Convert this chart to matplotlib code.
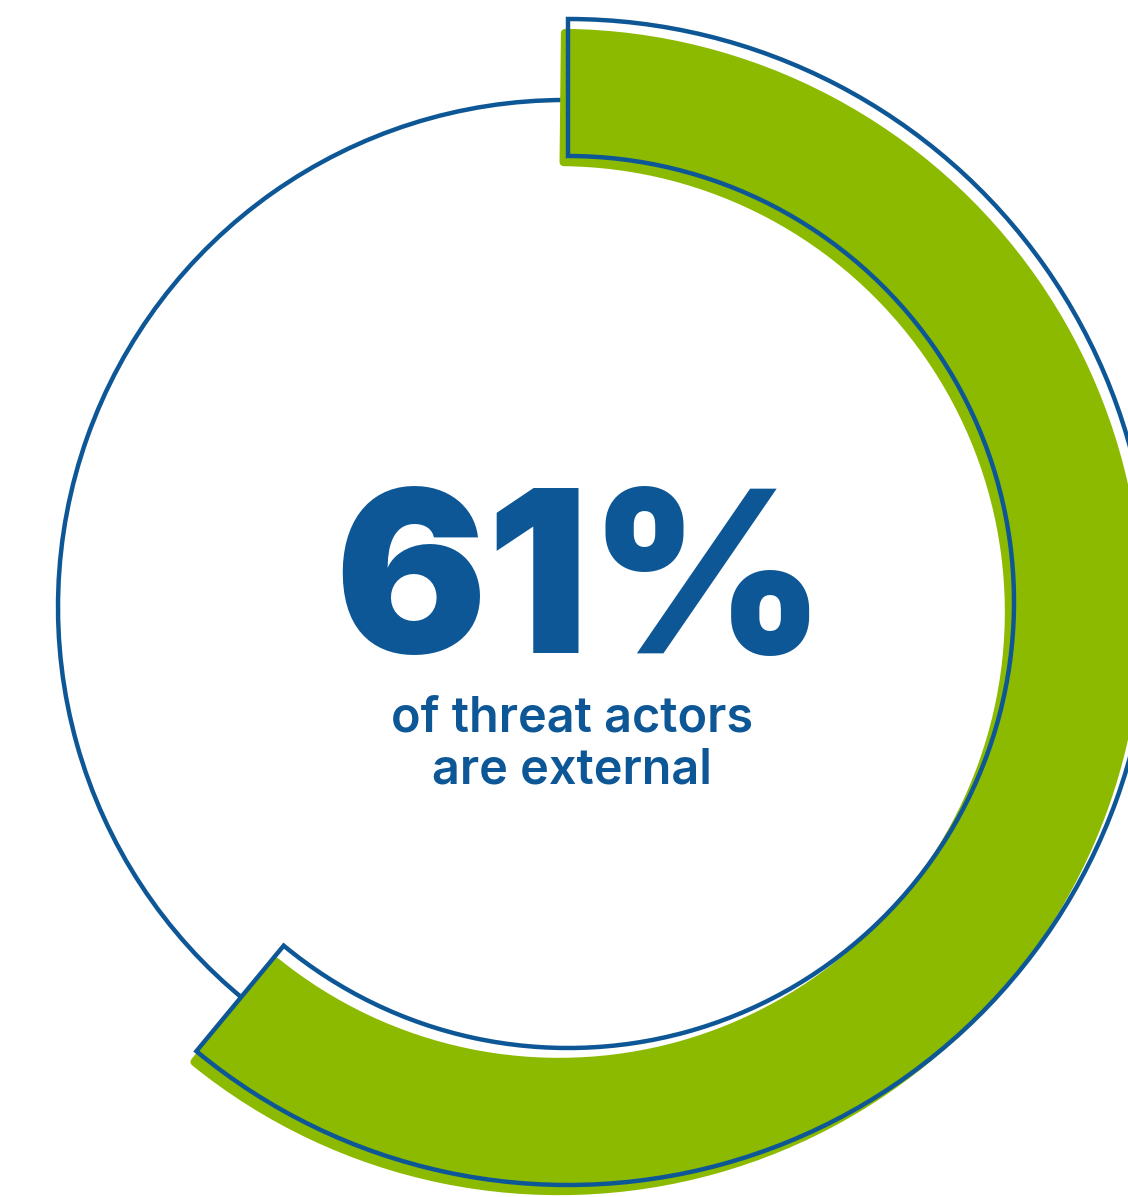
import matplotlib
matplotlib.use("Agg")
import matplotlib.pyplot as plt
from matplotlib.patches import Wedge, Arc

# Data
labels = ["External", "Other"]
values = [61, 39]
headline = "61%"
sub_lines = ["of threat actors", "are external"]

BLUE = "#0E5796"
GREEN = "#8CBA00"

W, H = 1128, 1197
fig = plt.figure(figsize=(W / 100, H / 100), dpi=100)
ax = fig.add_axes([0, 0, 1, 1])
ax.set_xlim(0, W)
ax.set_ylim(0, H)
ax.set_aspect("equal")
ax.axis("off")

share = values[0] / sum(values)
span = 360 * share
theta_start = 90 - span  # clockwise from 12 o'clock
theta_end = 90

cx, cy = 568, H - 602
R_out, R_in = 583, 446
width = R_out - R_in

# thin remaining circle (the other share)
ax.add_patch(Arc((565, H - 607), 2 * 507, 2 * 507, theta1=90, theta2=90 + 360 * (1 - share) + 0.5,
                 color=BLUE, lw=3.2, zorder=1))

# green filled wedge (offset, rounded corners)
pad = 4
gx, gy = cx - 9, cy - 10
ax.add_patch(Wedge((gx, gy), R_out - pad, theta_start + 0.6, theta_end - 0.6, width=width - 2 * pad,
                   facecolor=GREEN, edgecolor=GREEN, lw=6, joinstyle="round", zorder=2))

# blue outline wedge
ax.add_patch(Wedge((cx, cy), R_out, theta_start, theta_end, width=width,
                   facecolor="none", edgecolor=BLUE, lw=3.2, joinstyle="miter", zorder=3))

fam = ["Inter", "DejaVu Sans"]
ax.text(580, H - 653, headline, ha="center", va="baseline", color=BLUE,
        fontsize=163, fontweight="black", family=fam, zorder=4)
ax.text(572, H - 732, sub_lines[0], ha="center", va="baseline", color=BLUE,
        fontsize=35, fontweight="semibold", family=fam, zorder=4)
ax.text(572, H - 783, sub_lines[1], ha="center", va="baseline", color=BLUE,
        fontsize=35, fontweight="semibold", family=fam, zorder=4)

fig.savefig("out.png", dpi=100)
